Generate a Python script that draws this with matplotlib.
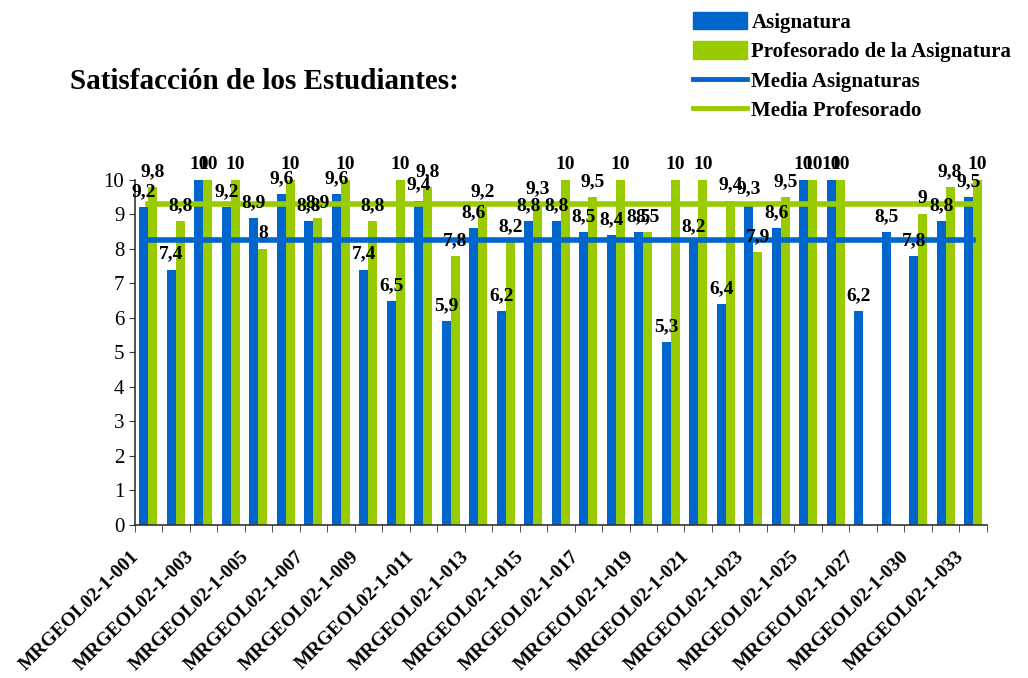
import numpy as np
from matplotlib import pyplot as plt
from matplotlib.patches import Patch
from matplotlib.lines import Line2D
from matplotlib.transforms import ScaledTranslation

plt.rcParams['font.family'] = ['Liberation Serif', 'DejaVu Serif']

# course codes (only every other one is labelled on the axis)
codes = ['MRGEOL02-1-%03d' % n for n in list(range(1, 28)) + [29, 30, 32, 33]]

asignatura = [9.2, 7.4, 10, 9.2, 8.9, 9.6, 8.8, 9.6, 7.4, 6.5, 9.4,
              5.9, 8.6, 6.2, 8.8, 8.8, 8.5, 8.4, 8.5, 5.3,
              8.2, 6.4, 9.3, 8.6, 10, 10, 6.2, 8.5, 7.8, 8.8, 9.5]
profesorado = [9.8, 8.8, 10, 10, 8, 10, 8.9, 10, 8.8, 10, 9.8,
               7.8, 9.2, 8.2, 9.3, 10, 9.5, 10, 8.5, 10,
               10, 9.4, 7.9, 9.5, 10, 10, np.nan, np.nan, 9, 9.8, 10]
media_asignaturas = 8.25
media_profesorado = 9.3

BLUE = '#0066cc'
GREEN = '#99cc00'


def fmt(v):
    s = ('%.1f' % v).replace('.', ',')
    if s.endswith(',0'):
        s = s[:-2]
    return s


fig = plt.figure(figsize=(10.28, 6.78), dpi=100)
ax = fig.add_axes([0.131, 0.2257, 0.829, 0.509])

x = np.arange(len(codes))
w = 0.33
ax.bar(x - w/2, asignatura, w, color=BLUE, zorder=2)
ax.bar(x + w/2, profesorado, w, color=GREEN, zorder=2)

ax.plot([x[0], x[-1]], [media_asignaturas]*2, color=BLUE, lw=4, zorder=3)
ax.plot([x[0], x[-1]], [media_profesorado]*2, color=GREEN, lw=4, zorder=3)

for i in range(len(codes)):
    a = asignatura[i]
    p = profesorado[i]
    ax.text(x[i] - w/2, a + 0.2, fmt(a), ha='center', va='bottom',
            fontsize=14, fontweight='bold', zorder=5)
    if not np.isnan(p):
        ax.text(x[i] + w/2, p + 0.2, fmt(p), ha='center', va='bottom',
                fontsize=14, fontweight='bold', zorder=5)

ax.set_xlim(-0.5, len(codes) - 0.5)
ax.set_ylim(0, 10)
ax.set_yticks(range(0, 11))
ax.tick_params(axis='y', labelsize=15, direction='out', length=4, color='#333333')

ax.set_xticks(x[::2])
ax.set_xticklabels(codes[::2], rotation=45, ha='right', rotation_mode='anchor',
                   fontsize=14, fontweight='bold')
ax.set_xticks(np.arange(-0.5, len(codes), 1), minor=True)
ax.tick_params(axis='x', which='major', length=0, pad=18)
ax.tick_params(axis='x', which='minor', length=5, direction='out', color='#333333')
shift = ScaledTranslation(-0.18, 0.02, fig.dpi_scale_trans)
for lbl in ax.get_xticklabels():
    lbl.set_transform(lbl.get_transform() + shift)

for side in ['top', 'right']:
    ax.spines[side].set_visible(False)
for side in ['left', 'bottom']:
    ax.spines[side].set_color('#333333')
    ax.spines[side].set_linewidth(1.2)

fig.text(0.068, 0.88, 'Satisfacción de los Estudiantes:', fontsize=21,
         fontweight='bold', va='center')

handles = [Patch(color=BLUE), Patch(color=GREEN),
           Line2D([], [], color=BLUE, lw=3.5), Line2D([], [], color=GREEN, lw=3.5)]
labels = ['Asignatura', 'Profesorado de la Asignatura', 'Media Asignaturas',
          'Media Profesorado']
fig.legend(handles, labels, loc='upper left', bbox_to_anchor=(0.666, 0.995),
           frameon=False, prop={'weight': 'bold', 'size': 15},
           handlelength=2.6, handleheight=0.9, handletextpad=0.2,
           labelspacing=0.42, borderaxespad=0)

fig.savefig('out.png', dpi=100)
